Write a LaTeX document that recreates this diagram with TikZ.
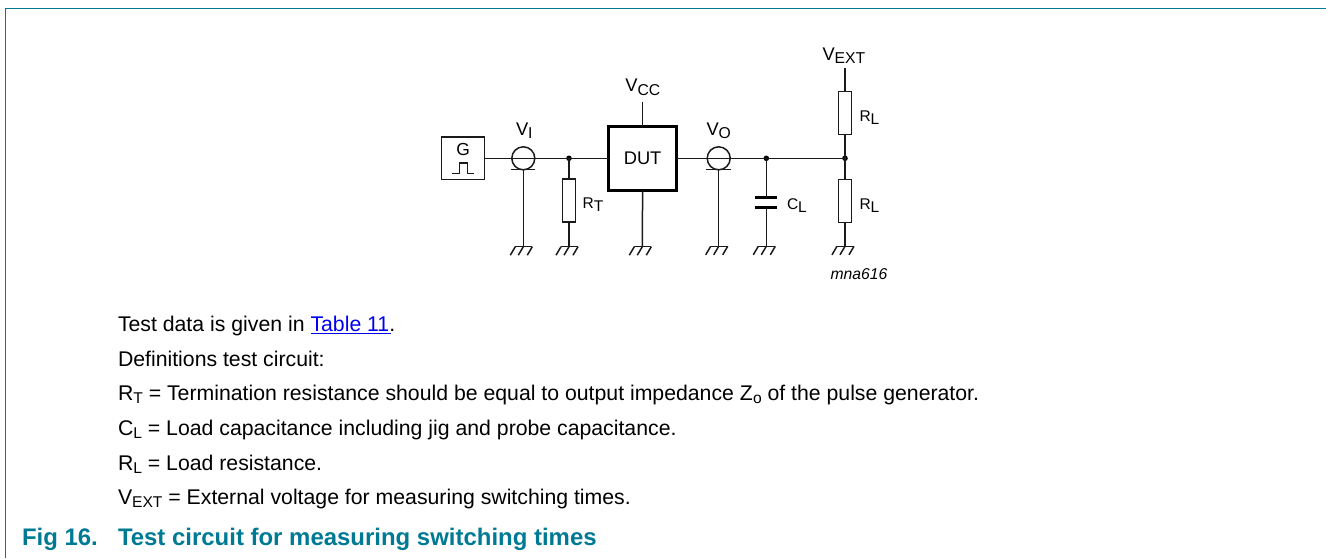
\documentclass[tikz,border=0pt]{standalone}
\usepackage{fontspec}
\setmainfont{Liberation Sans}
\definecolor{nxpteal}{HTML}{007A94}
\definecolor{wirecol}{HTML}{1A1A1A}
\definecolor{linkblue}{HTML}{0000F0}
\newcommand{\fs}[1]{\fontsize{#1}{#1}\selectfont}
\newcommand{\bodysub}[1]{\raisebox{-3.6pt}{\fs{15.6}#1}}
\newcommand{\lblV}[1]{{\fs{18.3}V\raisebox{-3.6pt}{\fs{15.7}#1}}}
\tikzset{
  wire/.style={draw=wirecol,line width=1.5pt},
  resbox/.style={draw=wirecol,line width=1.5pt,fill=white,minimum width=13.2pt,minimum height=43pt,inner sep=0pt,outer sep=0pt},
  probe/.style={draw=wirecol,line width=1.5pt,circle,minimum size=23pt,inner sep=0pt,outer sep=0pt},
  junction/.style={circle,fill=black,minimum size=5.6pt,inner sep=0pt,outer sep=0pt},
  capplate/.style={draw=black,line width=3pt},
  label/.style={inner sep=0pt,outer sep=0pt,anchor=base west,text=black},
  small/.style={label,font=\fs{15.5}},
  bodytext/.style={label,font=\fs{21.25}},
  captext/.style={label,font=\fs{23.95}\bfseries,text=nxpteal},
  gnd/.pic={
    \draw[wire] (-8,0) -- (9,0);
    \draw[wire] (-8,0) -- (-13,8.5);
    \draw[wire] (0,0) -- (-5,8.5);
    \draw[wire] (9,0) -- (4,8.5);
  }
}
\begin{document}
\begin{tikzpicture}[x=1pt,y=-1pt]
\useasboundingbox (0,0) rectangle (1326,558);
% frame
\coordinate (frameBL) at (5.5,558);
\coordinate (frameTL) at (5.5,8.5);
\coordinate (frameTR) at (1326,8.5);
\draw[draw=nxpteal,line width=1.3pt] (frameBL) -- (frameTL) -- (frameTR);
% generator
\node[draw=wirecol,line width=1.5pt,minimum width=43.2pt,minimum height=42.6pt,inner sep=0pt,outer sep=0pt] (gen) at (463.1,158.3) {};
\node[label,anchor=base,font=\fs{17.4}] (gtxt) at (463.1,155.8) {G};
\coordinate (p1) at (452,173.3);
\coordinate (p2) at (459.3,173.3);
\coordinate (p3) at (459.3,162.8);
\coordinate (p4) at (467.3,162.8);
\coordinate (p5) at (467.3,173.3);
\coordinate (p6) at (474.3,173.3);
\draw[wire] (p1) -- (p2) -- (p3) -- (p4) -- (p5) -- (p6);
% probes
\node[probe] (vi) at (523.3,158.3) {};
\node[probe] (vo) at (718.7,158.3) {};
\coordinate (vibarL) at (511,169.6);
\coordinate (vibarR) at (535.3,169.6);
\coordinate (vibarM) at (523.3,169.6);
\coordinate (vobarL) at (706,169.6);
\coordinate (vobarR) at (730.7,169.6);
\coordinate (vobarM) at (718.7,169.6);
\draw[wire] (vibarL) -- (vibarR);
\draw[wire] (vobarL) -- (vobarR);
% DUT
\node[draw=black,line width=2.8pt,minimum width=68pt,minimum height=64pt,inner sep=0pt,outer sep=0pt] (dut) at (642.6,158.3) {};
\node[label,anchor=base,font=\fs{18.3}] (duttxt) at (642.6,164.7) {DUT};
% junctions
\node[junction] (j1) at (569,158.3) {};
\node[junction] (j2) at (766.3,158.3) {};
\node[junction] (j3) at (845,158.3) {};
% resistors
\node[resbox] (rt) at (569,200.7) {};
\node[resbox] (rl1) at (845,113.2) {};
\node[resbox] (rl2) at (845,200.8) {};
% capacitor
\coordinate (cap1) at (766.3,197.7);
\coordinate (cap2) at (766.3,207.3);
\draw[capplate] (755.3,197.7) -- (777.3,197.7);
\draw[capplate] (755.3,207.3) -- (777.3,207.3);
% supplies and grounds
\coordinate (vcc) at (642.6,101.7);
\coordinate (vext) at (845,67.7);
\coordinate (g1) at (523.3,246.7);
\coordinate (g2) at (569,246.7);
\coordinate (g3) at (642.3,246.7);
\coordinate (g4) at (718.7,246.3);
\coordinate (g5) at (766.3,246.3);
\coordinate (g6) at (845,246.3);
\foreach \g in {g1,g2,g3,g4,g5,g6} { \pic at (\g) {gnd}; }
% wires
\draw[wire] (gen.east) -- (dut.west);
\draw[wire] (dut.east) -- (j3.center);
\draw[wire] (vibarM) -- (g1);
\draw[wire] (j1.center) -- (rt.north);
\draw[wire] (rt.south) -- (g2);
\draw[wire] (vcc) -- (dut.north);
\draw[wire] (dut.south) -- (g3);
\draw[wire] (vobarM) -- (g4);
\draw[wire] (j2.center) -- (cap1);
\draw[wire] (cap2) -- (g5);
\draw[wire] (vext) -- (rl1.north);
\draw[wire] (rl1.south) -- (j3.center);
\draw[wire] (j3.center) -- (rl2.north);
\draw[wire] (rl2.south) -- (g6);
% labels
\node[label] (lvcc) at (625.3,91.5) {\lblV{CC}};
\node[label] (lvi) at (516,135) {\lblV{I}};
\node[label] (lvo) at (706.5,135) {\lblV{O}};
\node[label] (lvext) at (822.5,60) {\lblV{EXT}};
\node[small] (lrt) at (582.7,208) {R\raisebox{-3pt}{T}};
\node[small] (lcl) at (787,209) {C\raisebox{-3pt}{L}};
\node[small] (lrl1) at (859.5,121) {R\raisebox{-3pt}{L}};
\node[small] (lrl2) at (859.5,209) {R\raisebox{-3pt}{L}};
\node[small,font=\fs{15.7}\itshape] (code) at (830.5,279.5) {mna616};
% text
\node[bodytext] (t1) at (118,331) {Test data is given in \textcolor{linkblue}{\rlap{\rule[-3.3pt]{80pt}{1.3pt}}Table 11}.};
\node[bodytext] (t2) at (118,366) {Definitions test circuit:};
\node[bodytext] (t3) at (118,400) {R\bodysub{T} = Termination resistance should be equal to output impedance Z\bodysub{o} of the pulse generator.};
\node[bodytext] (t4) at (118,435) {C\bodysub{L} = Load capacitance including jig and probe capacitance.};
\node[bodytext] (t5) at (118,470) {R\bodysub{L} = Load resistance.};
\node[bodytext] (t6) at (118,504) {V\bodysub{EXT} = External voltage for measuring switching times.};
\node[captext] (c1) at (22,545) {Fig 16.};
\node[captext] (c2) at (118,545) {Test circuit for measuring switching times};
\end{tikzpicture}
\end{document}
